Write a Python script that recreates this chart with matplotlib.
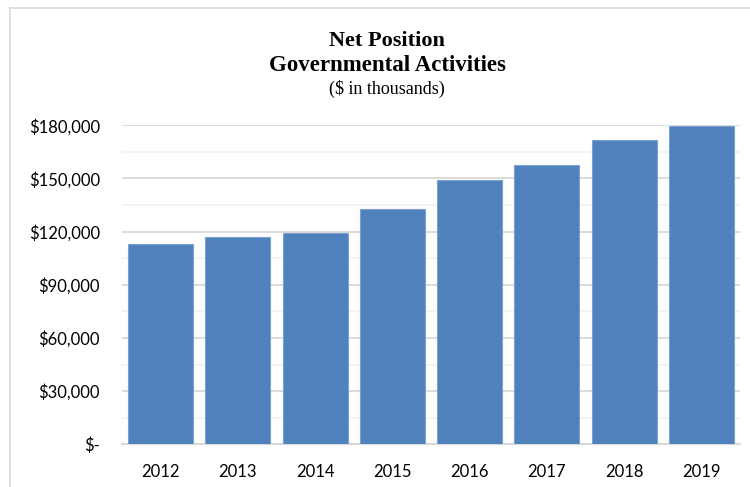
import matplotlib.pyplot as plt
from matplotlib.lines import Line2D
from matplotlib.ticker import FuncFormatter, MultipleLocator

# 年度と純資産 ($ in thousands)
years = ['2012', '2013', '2014', '2015', '2016', '2017', '2018', '2019']
net_position = [112900, 116800, 119200, 132800, 149200, 157400, 171600, 179600]

major_ticks = [0, 30000, 60000, 90000, 120000, 150000, 180000]


def money(v, pos):
    if v == 0:
        return '$-'
    return f'${v:,.0f}'


def main():
    fig = plt.figure(figsize=(7.5, 4.87), dpi=100)
    ax = fig.add_axes([0.1627, 0.0877, 0.824, 0.655])

    x = range(len(years))
    ax.bar(x, net_position, width=0.84, color='#4F81BD',
           edgecolor='#7EA1CF', linewidth=0.8, zorder=3)

    ax.set_xlim(-0.5, len(years) - 0.5)
    ax.set_ylim(0, 180000)
    ax.set_yticks(major_ticks)
    ax.yaxis.set_minor_locator(MultipleLocator(15000))
    ax.yaxis.set_major_formatter(FuncFormatter(money))
    ax.set_xticks(list(x))
    ax.set_xticklabels(years)

    # グリッド
    ax.grid(axis='y', which='major', color='#D9D9D9', linewidth=1.3, zorder=0)
    ax.grid(axis='y', which='minor', color='#F2F2F2', linewidth=1.3, zorder=0)
    for s in ['top', 'right', 'left']:
        ax.spines[s].set_visible(False)
    ax.spines['bottom'].set_color('#D9D9D9')
    ax.spines['bottom'].set_linewidth(1.5)
    ax.tick_params(axis='both', which='both', length=0, labelsize=12)
    ax.tick_params(axis='y', pad=16)
    ax.tick_params(axis='x', pad=14)
    for lab in ax.get_xticklabels() + ax.get_yticklabels():
        lab.set_fontfamily('Lato')
        lab.set_color('#000000')

    # タイトル
    fig.text(0.516, 0.916, 'Net Position', ha='center', va='center',
             family='Liberation Serif', fontweight='bold', fontsize=16)
    fig.text(0.516, 0.865, 'Governmental Activities', ha='center', va='center',
             family='Liberation Serif', fontweight='bold', fontsize=16.5)
    fig.text(0.516, 0.818, '($ in thousands)', ha='center', va='center',
             family='Liberation Serif', fontsize=13)

    # 外枠
    fig.add_artist(Line2D([0.0133, 0.0133], [0, 0.9836], color='#D9D9D9', lw=1.2))
    fig.add_artist(Line2D([0.0133, 1], [0.9836, 0.9836], color='#D9D9D9', lw=1.2))

    fig.savefig('out.png', dpi=100)


if __name__ == '__main__':
    main()
